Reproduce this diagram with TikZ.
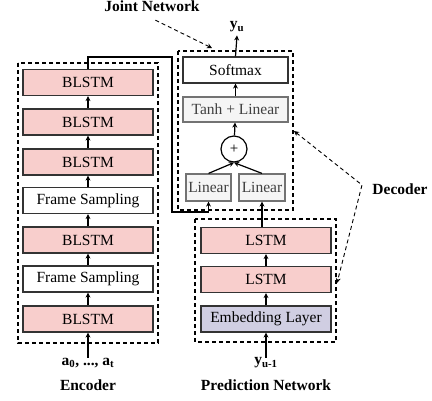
\documentclass[tikz,border=0pt]{standalone}
\usepackage{fontspec}
\setmainfont{Liberation Serif}
\usetikzlibrary{arrows.meta}
\definecolor{lstmred}{HTML}{F8CECC}
\definecolor{lingray}{HTML}{F5F5F5}
\definecolor{embpurple}{HTML}{D0CEE2}
\tikzset{
  layer/.style={draw=black!80,line width=1.2pt,minimum width=130pt,minimum height=26pt,inner sep=0pt,font=\fontsize{15.5}{18}\selectfont},
  rnn/.style={layer,fill=lstmred},
  plainbox/.style={layer,fill=white},
  linbox/.style={layer,draw=black!55,fill=lingray,text=black!75},
  arr/.style={-{Stealth[length=5pt,width=5pt]},line width=1.2pt},
  dasharr/.style={{Stealth[length=5pt,width=5pt]}-{Stealth[length=5pt,width=5pt]},line width=0.9pt,dash pattern=on 4pt off 3pt},
  group/.style={line width=1.2pt,dash pattern=on 4pt off 3pt},
  lbl/.style={inner sep=0pt,font=\fontsize{15.5}{18}\selectfont\bfseries}
}
\begin{document}
\begin{tikzpicture}[x=1pt,y=-1pt]
\useasboundingbox (0,0) rectangle (432,400);
\draw[group] (18,63) rectangle (158,343);
\draw[group] (178,51) rectangle (293,210);
\draw[group] (195,219) rectangle (336,342);
\node[rnn] (b1) at (88,82.5) {BLSTM};
\node[rnn] (b2) at (88,122) {BLSTM};
\node[rnn] (b3) at (88,162) {BLSTM};
\node[plainbox] (fs1) at (88,200.5) {Frame Sampling};
\node[rnn] (b4) at (88,240) {BLSTM};
\node[plainbox] (fs2) at (88,279) {Frame Sampling};
\node[rnn] (b5) at (88,319) {BLSTM};
\node[plainbox,minimum width=105pt] (soft) at (235.5,70) {Softmax};
\node[linbox,minimum width=105pt,minimum height=25pt] (tanh) at (235.5,109.5) {Tanh + Linear};
\node[draw,circle,line width=1.2pt,minimum size=26pt,inner sep=0pt,fill=white,font=\fontsize{15}{18}\selectfont] (plus) at (234,149) {+};
\node[linbox,minimum width=45pt,minimum height=27pt] (lin1) at (208.5,187.5) {Linear};
\node[linbox,minimum width=46pt,minimum height=27pt] (lin2) at (262,187.5) {Linear};
\node[rnn] (lstm1) at (266,240.5) {LSTM};
\node[rnn] (lstm2) at (266,279.5) {LSTM};
\node[layer,fill=embpurple] (emb) at (266,319) {Embedding Layer};
\node[lbl] (x) at (88,363) {a\textsubscript{0}, ..., a\textsubscript{t}};
\node[lbl] (enc) at (88,385) {Encoder};
\node[lbl] (yp) at (266,363) {y\textsubscript{u-1}};
\node[lbl] (pred) at (266,385) {Prediction Network};
\node[lbl] (y) at (237,27) {y\textsubscript{u}};
\node[lbl] (joint) at (152,6) {Joint Network};
\node[lbl] (dec) at (400,189) {Decoder};
\draw[arr] (x) -- (b5);
\draw[arr] (b5) -- (fs2);
\draw[arr] (fs2) -- (b4);
\draw[arr] (b4) -- (fs1);
\draw[arr] (fs1) -- (b3);
\draw[arr] (b3) -- (b2);
\draw[arr] (b2) -- (b1);
\draw[arr] (b1.north) -- ++(0,-12) -| (172,212) -| (lin1.south);
\draw[arr] (lin1.north) -- (plus.south);
\draw[arr] (lin2.north) -- (plus.south);
\draw[arr] (plus) -- (tanh);
\draw[arr] (tanh) -- (soft);
\draw[arr] (soft.north) -- ([yshift=-3pt]y.south);
\draw[arr] (yp) -- (emb);
\draw[arr] (emb) -- (lstm2);
\draw[arr] (lstm2) -- (lstm1);
\draw[arr] (lin2.south |- lstm1.north) -- (lin2.south);
\coordinate (jtop) at (212,48);
\coordinate (jside) at (294,131);
\coordinate (bend) at (362,185);
\coordinate (pside) at (337,283);
\draw[dasharr,{Stealth[length=5pt,width=5pt]}-] (jtop) -- (153,19);
\draw[dasharr] (jside) -- (bend) -- (pside);
\end{tikzpicture}
\end{document}
